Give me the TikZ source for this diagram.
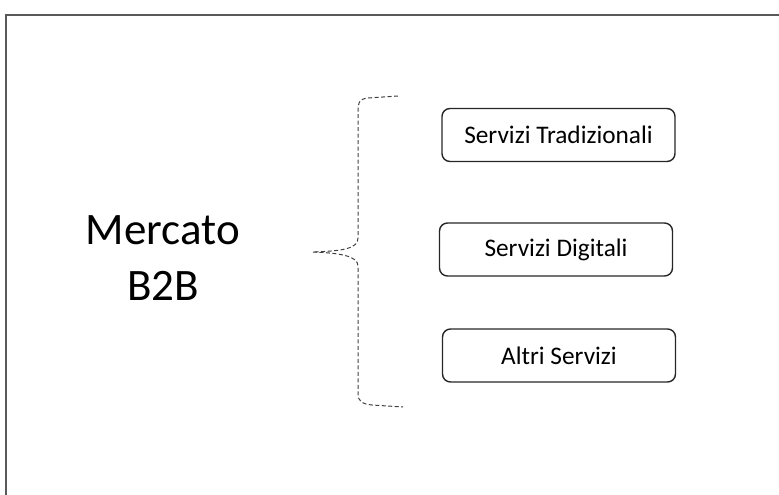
\documentclass[tikz,border=0pt]{standalone}
\usepackage{fontspec}
\setmainfont{Carlito}
\begin{document}
\begin{tikzpicture}[x=1pt,y=-1pt,
  servicebox/.style={draw=black!85, line width=1.4pt, rounded corners=8pt, minimum width=233pt, minimum height=53pt, font=\fontsize{25.3}{30}\selectfont, inner sep=0pt},
  bracestyle/.style={draw=black!75, line width=1pt, dash pattern=on 4pt off 2.5pt}]
  \useasboundingbox (0,0) rectangle (779,495);
  % outer frame (top and left edges)
  \draw[black!65, line width=1.2pt] (6,495) -- (6,15) -- (779,15);
  % market label
  \node[font=\fontsize{45}{56}\selectfont, align=center] (mercato) at (163,258) {Mercato\\B2B};
  % service boxes
  \node[servicebox] (trad) at (558.5,135) {Servizi Tradizionali};
  \node[servicebox] (digi) at (556,249.5) {Servizi Digitali};
  \node[servicebox] (altri) at (559,355.5) {Altri Servizi};
  % curly brace grouping the services
  \coordinate (btop) at (398,96);
  \coordinate (bbot) at (403,407);
  \coordinate (tip) at (313,252);
  \draw[bracestyle] (btop) -- (368,98) .. controls (358,99) and (358,104) .. (358,112)
    -- (358,238) .. controls (358,248) and (345,251) .. (tip);
  \draw[bracestyle] (tip) .. controls (340,253) and (358,256) .. (358,266)
    -- (358,394) .. controls (358,401) and (362,404) .. (372,405) -- (bbot);
\end{tikzpicture}
\end{document}
